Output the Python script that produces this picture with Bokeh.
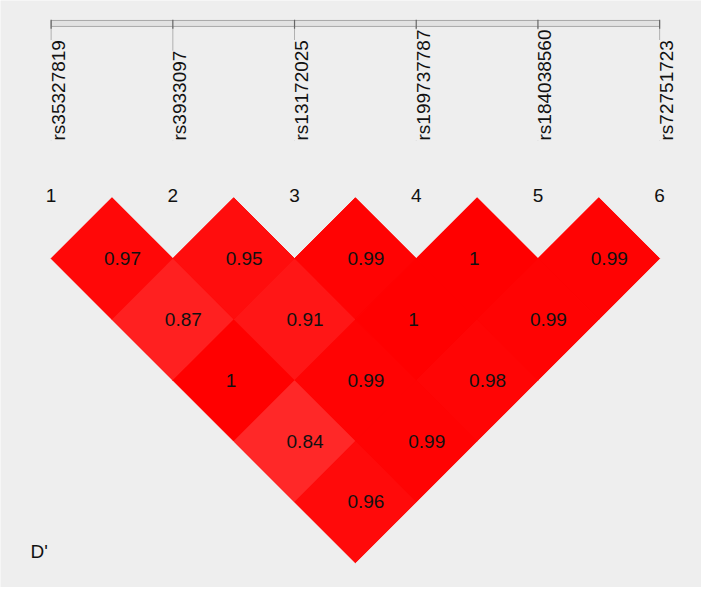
import math
from bokeh.plotting import figure
from bokeh.models import Range1d, Label, ColumnDataSource
from bokeh.core.properties import value
from bokeh.embed import file_html
from bokeh.resources import INLINE

# ---- data ----
snp_names = ["rs35327819", "rs3933097", "rs13172025", "rs199737787", "rs184038560", "rs72751723"]
snp_index = [1, 2, 3, 4, 5, 6]
pair_i = [1, 2, 3, 4, 5, 1, 2, 3, 4, 1, 2, 3, 1, 2, 1]
pair_j = [2, 3, 4, 5, 6, 3, 4, 5, 6, 4, 5, 6, 5, 6, 6]
dprime = [0.97, 0.95, 0.99, 1.0, 0.99, 0.87, 0.91, 1.0, 0.99, 1.0, 0.99, 0.98, 0.84, 0.99, 0.96]
dprime_labels = ["0.97", "0.95", "0.99", "1", "0.99", "0.87", "0.91", "1", "0.99", "1", "0.99", "0.98", "0.84", "0.99", "0.96"]

FONT = value("Liberation Sans")
FS = "19px"
BG = "#EEEEEE"

p = figure(width=701, height=587,
           x_range=Range1d(0.584, 6.344), y_range=Range1d(-3.203, 1.620),
           output_backend="svg", toolbar_location=None, min_border=0,
           background_fill_color=BG, border_fill_color=BG)
p.axis.visible = False
p.grid.visible = False
p.outline_line_color = None

# ---- LD cells ----
xs, ys, cols, cx, cy = [], [], [], [], []
for i, j, d in zip(pair_i, pair_j, dprime):
    x0 = (i + j) / 2.0
    y0 = -(j - i) / 2.0
    xs.append([x0 - 0.5, x0, x0 + 0.5, x0])
    ys.append([y0, y0 + 0.5, y0, y0 - 0.5])
    g = 0 if d >= 1 else int(round(250 * (1 - d)))
    cols.append("#%02x%02x%02x" % (255, g, g))
    cx.append(x0)
    cy.append(y0)

cells = ColumnDataSource(dict(xs=xs, ys=ys, color=cols, x=cx, y=cy, label=dprime_labels))
# red underlay hides anti-aliasing seams between neighbouring cells
p.patches("xs", "ys", source=cells, fill_color="#FF0000", line_color="#FF0000", line_width=0.8)
p.patches("xs", "ys", source=cells, fill_color="color", line_color=None)
p.text("x", "y", text="label", source=cells, x_offset=-8, text_align="left",
       text_baseline="middle", text_font=FONT, text_font_size=FS, text_color="#111111")

# ---- marker numbers ----
p.text(snp_index, [0.018] * 6, text=[str(k) for k in snp_index], text_align="center",
       text_baseline="middle", text_font=FONT, text_font_size=FS, text_color="#111111")

# ---- top bar, ticks and connector lines ----
bar_top, bar_bot = 1.456, 1.407
label_start = 0.47
p.segment(snp_index, [bar_bot] * 6, snp_index, [label_start] * 6, line_color="#B0B0B0", line_width=1)
p.quad(left=[snp_index[0]], right=[snp_index[-1]], top=[bar_top], bottom=[bar_bot],
       fill_color="#E2E2E2", line_color="#A8A8A8", line_width=1)
p.segment(snp_index, [bar_top + 0.005] * 6, snp_index, [bar_bot - 0.02] * 6, line_color="#666666", line_width=1.2)

# ---- SNP names (rotated) ----
p.text(snp_index, [label_start] * 6, text=snp_names, angle=math.pi / 2, x_offset=7,
       text_align="left", text_baseline="alphabetic", text_font=FONT, text_font_size=FS,
       text_color="#111111", background_fill_color=BG)

# ---- D' legend label ----
p.add_layout(Label(x=30, y=36, x_units="screen", y_units="screen", text="D'",
                   text_font="Liberation Sans", text_font_size=FS, text_color="#111111",
                   text_baseline="middle", text_align="left"))

open("out.html", "w").write(file_html(p, INLINE))
